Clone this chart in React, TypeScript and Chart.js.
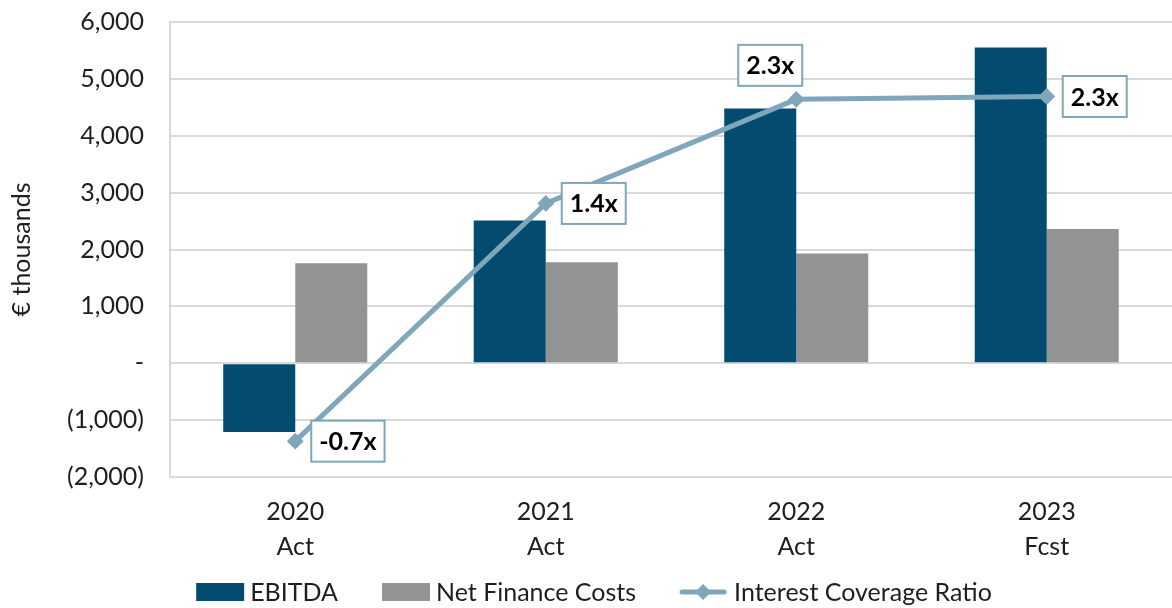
import React, { useEffect, useRef } from "react";
import { Chart, registerables } from "chart.js";

Chart.register(...registerables);

const years = ["2020", "2021", "2022", "2023"];
const periods = ["Act", "Act", "Act", "Fcst"];
const ebitda = [-1210, 2510, 4480, 5550];
const netFinanceCosts = [1760, 1775, 1930, 2360];
const coverageRatio = [-0.685, 1.405, 2.32, 2.345];
const ratioLabels = ["-0.7x", "1.4x", "2.3x", "2.3x"];
const labelPlacement = ["right", "right", "above", "right"];

const C_EBITDA = "#034C70";
const C_NFC = "#939393";
const C_LINE = "#7FA6BA";
const FONT = "Lato, 'Open Sans', sans-serif";
const TEXT = "#1E1E1E";

const ratioLabelPlugin = {
  id: "ratioLabels",
  afterDatasetsDraw(chart: any) {
    const meta = chart.getDatasetMeta(2);
    const ctx = chart.ctx;
    ctx.save();
    ctx.font = `bold 25px ${FONT}`;
    ctx.textBaseline = "middle";
    ctx.textAlign = "center";
    meta.data.forEach((pt: any, i: number) => {
      const text = ratioLabels[i];
      const tw = ctx.measureText(text).width;
      const w = tw + 16;
      const h = 41;
      let cx: number, cy: number;
      if (labelPlacement[i] === "above") {
        cx = pt.x - 26;
        cy = pt.y - 34;
      } else {
        cx = pt.x + 16 + w / 2;
        cy = pt.y;
      }
      ctx.fillStyle = "#ffffff";
      ctx.fillRect(cx - w / 2, cy - h / 2, w, h);
      ctx.strokeStyle = C_LINE;
      ctx.lineWidth = 2;
      ctx.strokeRect(cx - w / 2, cy - h / 2, w, h);
      ctx.fillStyle = "#000000";
      ctx.fillText(text, cx, cy + 1);
    });
    ctx.restore();
  },
};

const legendPlugin = {
  id: "customLegend",
  afterDraw(chart: any) {
    const ctx = chart.ctx;
    ctx.save();
    ctx.font = `25px ${FONT}`;
    ctx.textBaseline = "middle";
    ctx.textAlign = "left";
    const items = chart.data.datasets.map((ds: any) => ({
      label: ds.label,
      type: ds.type,
      color: ds.type === "line" ? ds.borderColor : ds.backgroundColor,
      tw: ctx.measureText(ds.label).width,
    }));
    const symW = 48;
    const gapSym = 6;
    const gapItem = 44;
    let total = 0;
    items.forEach((it: any, i: number) => {
      total += symW + gapSym + it.tw + (i < items.length - 1 ? gapItem : 0);
    });
    const centerX = 594;
    const y = 592;
    let x = centerX - total / 2;
    items.forEach((it: any) => {
      if (it.type === "line") {
        ctx.strokeStyle = it.color;
        ctx.lineWidth = 5;
        ctx.lineCap = "round";
        ctx.beginPath();
        ctx.moveTo(x + 2, y);
        ctx.lineTo(x + symW - 4, y);
        ctx.stroke();
        ctx.fillStyle = it.color;
        const cx = x + symW / 2 - 1;
        const r = 8;
        ctx.beginPath();
        ctx.moveTo(cx, y - r);
        ctx.lineTo(cx + r, y);
        ctx.lineTo(cx, y + r);
        ctx.lineTo(cx - r, y);
        ctx.closePath();
        ctx.fill();
      } else {
        ctx.fillStyle = it.color;
        ctx.fillRect(x, y - 9, symW, 18);
      }
      ctx.fillStyle = TEXT;
      ctx.fillText(it.label, x + symW + gapSym, y + 1);
      x += symW + gapSym + it.tw + gapItem;
    });
    ctx.restore();
  },
};

export default function App() {
  const canvasRef = useRef<HTMLCanvasElement | null>(null);

  useEffect(() => {
    document.body.style.margin = "0";
    const canvas = canvasRef.current;
    if (!canvas) return;
    const chart = new Chart(canvas, {
      type: "bar",
      data: {
        labels: years.map((y, i) => [y, periods[i]]),
        datasets: [
          {
            type: "bar",
            label: "EBITDA",
            data: ebitda,
            backgroundColor: C_EBITDA,
            borderWidth: 0,
            categoryPercentage: 0.575,
            barPercentage: 1,
            yAxisID: "y",
            order: 2,
          },
          {
            type: "bar",
            label: "Net Finance Costs",
            data: netFinanceCosts,
            backgroundColor: C_NFC,
            borderWidth: 0,
            categoryPercentage: 0.575,
            barPercentage: 1,
            yAxisID: "y",
            order: 2,
          },
          {
            type: "line",
            label: "Interest Coverage Ratio",
            data: coverageRatio,
            borderColor: C_LINE,
            backgroundColor: C_LINE,
            borderWidth: 5,
            pointStyle: "rectRot",
            pointRadius: 7,
            pointBorderWidth: 2,
            pointBackgroundColor: C_LINE,
            pointBorderColor: C_LINE,
            tension: 0,
            clip: false,
            yAxisID: "y2",
            order: 0,
          } as any,
        ],
      },
      options: {
        animation: false,
        responsive: false,
        maintainAspectRatio: false,
        devicePixelRatio: 1,
        layout: { autoPadding: false, padding: { top: 22, right: 0, bottom: 45, left: 0 } },
        plugins: {
          legend: { display: false },
          tooltip: { enabled: false },
        },
        scales: {
          x: {
            grid: { display: false },
            border: { display: false },
            ticks: {
              color: TEXT,
              font: { family: FONT, size: 25, lineHeight: 1.38 },
              padding: 10,
              maxRotation: 0,
            },
            afterFit(scale: any) {
              scale.height = 86;
              scale.paddingLeft = 0;
              scale.paddingRight = 0;
            },
          },
          y: {
            min: -2000,
            max: 6000,
            grid: { color: "#D9D9D9", lineWidth: 2, drawTicks: false },
            border: { display: true, color: "#D9D9D9", width: 2 },
            ticks: {
              stepSize: 1000,
              color: TEXT,
              font: { family: FONT, size: 25 },
              padding: 26,
              callback: (v: any) => {
                const n = Number(v);
                if (n === 0) return "-";
                const s = Math.abs(n).toLocaleString("en-US");
                return n < 0 ? `(${s})` : s;
              },
            },
            title: {
              display: true,
              text: "€ thousands",
              color: TEXT,
              font: { family: FONT, size: 25 },
              padding: { top: 7, bottom: 0 },
            },
            afterFit(scale: any) {
              scale.width = 170;
              scale.paddingTop = 0;
              scale.paddingBottom = 0;
              scale.paddingLeft = 0;
              scale.paddingRight = 0;
            },
          },
          y2: {
            display: false,
            position: "right",
            min: -1,
            max: 3,
          },
        },
      },
      plugins: [ratioLabelPlugin, legendPlugin],
    });
    return () => chart.destroy();
  }, []);

  return (
    <div style={{ width: 1172, height: 608, position: "relative", overflow: "hidden" }}>
      <canvas ref={canvasRef} width={1172} height={608} style={{ display: "block" }} />
    </div>
  );
}
